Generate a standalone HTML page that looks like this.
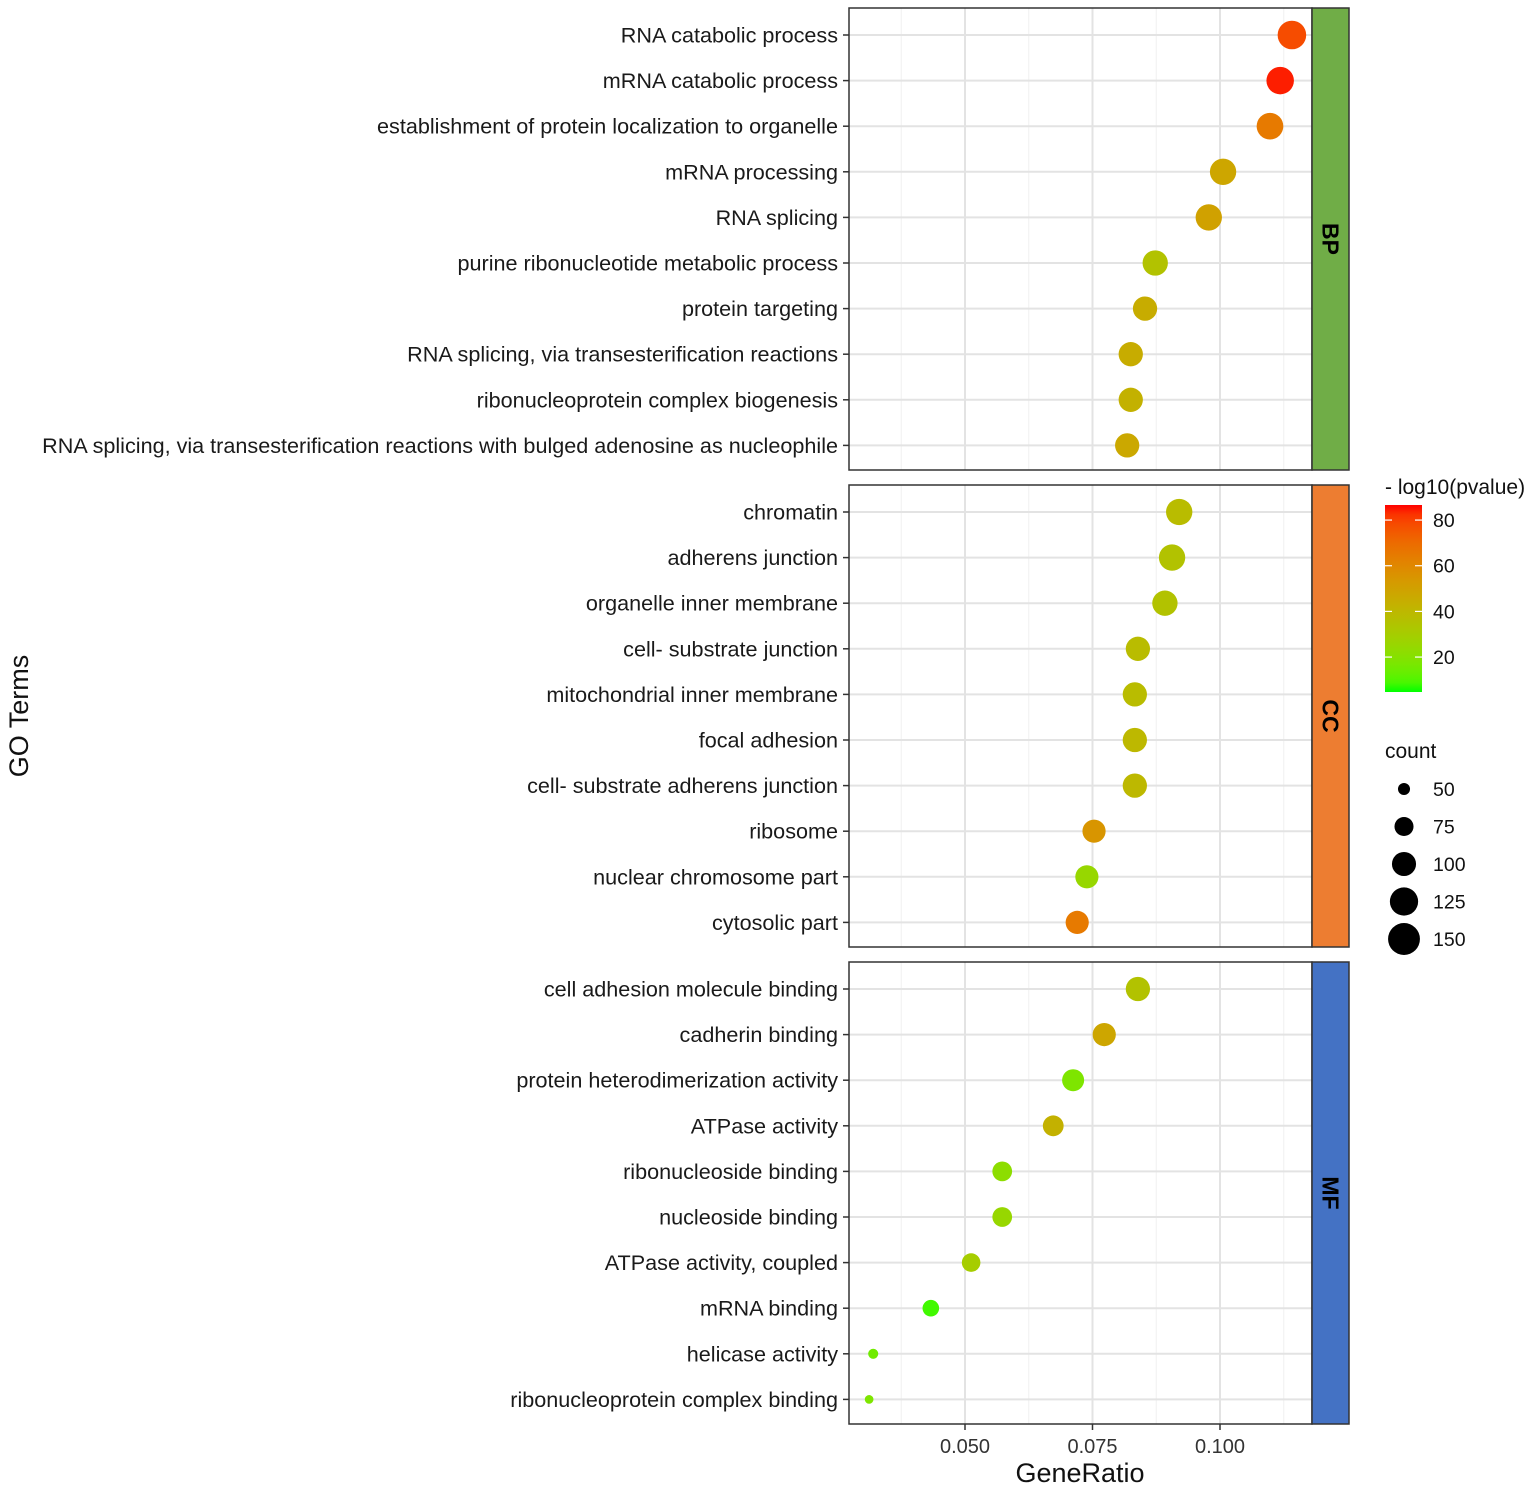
<!DOCTYPE html>
<html><head><meta charset="utf-8"><style>
html,body{margin:0;padding:0;background:#fff}
svg{display:block;font-family:"Liberation Sans",Arial,sans-serif}
</style></head><body>
<svg id="chart" width="1535" height="1491" viewBox="0 0 1535 1491"></svg>
<script>
const bpTerms=["RNA catabolic process","mRNA catabolic process","establishment of protein localization to organelle","mRNA processing","RNA splicing","purine ribonucleotide metabolic process","protein targeting","RNA splicing, via transesterification reactions","ribonucleoprotein complex biogenesis","RNA splicing, via transesterification reactions with bulged adenosine as nucleophile"];
const bpRatio=[0.1141,0.1118,0.1098,0.1006,0.0978,0.0873,0.0853,0.0825,0.0825,0.0818];
const bpCount=[127,120,115,113,113,107,101,101,101,101];
const bpLogP=[78,85,65,48,50,35,45,45,43,47];
const ccTerms=["chromatin","adherens junction","organelle inner membrane","cell- substrate junction","mitochondrial inner membrane","focal adhesion","cell- substrate adherens junction","ribosome","nuclear chromosome part","cytosolic part"];
const ccRatio=[0.0920,0.0906,0.0892,0.0839,0.0833,0.0833,0.0833,0.0753,0.0739,0.0720];
const ccCount=[113,113,107,101,101,101,101,95,95,95];
const ccLogP=[38,35,35,38,38,40,40,55,25,65];
const mfTerms=["cell adhesion molecule binding","cadherin binding","protein heterodimerization activity","ATPase activity","ribonucleoside binding","nucleoside binding","ATPase activity, coupled","mRNA binding","helicase activity","ribonucleoprotein complex binding"];
const mfRatio=[0.0839,0.0773,0.0712,0.0673,0.0573,0.0573,0.0512,0.0433,0.0320,0.0312];
const mfCount=[101,95,89,83,78,78,73,65,45,42];
const mfLogP=[35,48,18,43,22,25,30,8,15,18];
const xTicks=[0.050,0.075,0.100];
const xTickLabels=["0.050","0.075","0.100"];
const colorTicks=[20,40,60,80];
const sizeBreaks=[50,75,100,125,150];

const NS="http://www.w3.org/2000/svg";
const svg=document.getElementById('chart');
function mk(tag,attrs,parent,text){const e=document.createElementNS(NS,tag);for(const k in attrs)e.setAttribute(k,attrs[k]);if(text!==undefined)e.textContent=text;(parent||svg).appendChild(e);return e;}
const X0=849,X1=1312;
function xs(v){return 965+(v-0.05)*5100;}
function rs(c){return 1.1*Math.sqrt(Math.max(4,-60+1.8*c));}
const cMin=4.7,cMax=86.6;
function s2l(c){c/=255;return c<=0.04045?c/12.92:Math.pow((c+0.055)/1.055,2.4);}
function l2s(c){c=c<=0.0031308?12.92*c:1.055*Math.pow(c,1/2.4)-0.055;return Math.round(Math.max(0,Math.min(1,c))*255);}
function toLab(r,g,b){r=s2l(r);g=s2l(g);b=s2l(b);let x=(0.4124*r+0.3576*g+0.1805*b)/0.95047,y=0.2126*r+0.7152*g+0.0722*b,z=(0.0193*r+0.1192*g+0.9505*b)/1.08883;const f=t=>t>0.008856?Math.cbrt(t):7.787*t+16/116;return[116*f(y)-16,500*(f(x)-f(y)),200*(f(y)-f(z))];}
function fromLab(L,a,b){let fy=(L+16)/116,fx=fy+a/500,fz=fy-b/200;const fi=t=>t*t*t>0.008856?t*t*t:(t-16/116)/7.787;let x=fi(fx)*0.95047,y=fi(fy),z=fi(fz)*1.08883;let r=3.2406*x-1.5372*y-0.4986*z,g=-0.9689*x+1.8758*y+0.0415*z,bb=0.0557*x-0.2040*y+1.0570*z;return `rgb(${l2s(r)},${l2s(g)},${l2s(bb)})`;}
const LG=toLab(0,255,0),LR=toLab(255,0,0);
function col(v){const t=Math.max(0,Math.min(1,(v-cMin)/(cMax-cMin)));return fromLab(LG[0]+(LR[0]-LG[0])*t,LG[1]+(LR[1]-LG[1])*t,LG[2]+(LR[2]-LG[2])*t);}

const panels=[
 {name:"BP",top:8,terms:bpTerms,ratio:bpRatio,count:bpCount,logp:bpLogP,fill:"#70AD47"},
 {name:"CC",top:485,terms:ccTerms,ratio:ccRatio,count:ccCount,logp:ccLogP,fill:"#ED7D31"},
 {name:"MF",top:962,terms:mfTerms,ratio:mfRatio,count:mfCount,logp:mfLogP,fill:"#4472C4"}];
const PH=462;
panels.forEach(p=>{
 const g=mk('g',{});
 
 
 mk('rect',{x:X0,y:p.top,width:X1-X0,height:PH,fill:'#fff'},g);
 [0.0375,0.0625,0.0875,0.1125].forEach(v=>mk('line',{x1:xs(v),x2:xs(v),y1:p.top,y2:p.top+PH,stroke:'#f0f0f0','stroke-width':1},g));
 xTicks.forEach(v=>mk('line',{x1:xs(v),x2:xs(v),y1:p.top,y2:p.top+PH,stroke:'#e3e3e3','stroke-width':2},g));
 const step=45.6, y0=p.top+27;
 p.terms.forEach((t,i)=>{
  const y=y0+i*step;
  mk('line',{x1:X0,x2:X1,y1:y,y2:y,stroke:'#e3e3e3','stroke-width':2},g);
  mk('line',{x1:X0-6,x2:X0,y1:y,y2:y,stroke:'#333','stroke-width':1.5},g);
  const lb=mk('text',{x:838,y:y+7.5,'text-anchor':'end','font-size':21.6,fill:'#1a1a1a'},g,t);
  
  
 });
 p.terms.forEach((t,i)=>{
  const y=y0+i*step;
  const c=mk('circle',{cx:xs(p.ratio[i]),cy:y,r:rs(p.count[i]),fill:col(p.logp[i])},g);
  
  
 });
 mk('rect',{x:X0,y:p.top,width:X1-X0,height:PH,fill:'none',stroke:'#333','stroke-width':1.5},g);
 const s=mk('rect',{x:X1,y:p.top,width:37,height:PH,fill:p.fill,stroke:'#333','stroke-width':1.5},g);
 
 
 const cy=p.top+PH/2;
 mk('text',{x:X1+18.5,y:cy,'font-size':23,'font-weight':'bold','text-anchor':'middle','dominant-baseline':'central',transform:`rotate(90 ${X1+18.5} ${cy})`},g,p.name);
});
const bottom=962+PH;
xTicks.forEach((v,i)=>{
 mk('line',{x1:xs(v),x2:xs(v),y1:bottom,y2:bottom+6,stroke:'#333','stroke-width':1.5});
 const t=mk('text',{x:xs(v),y:bottom+29,'text-anchor':'middle','font-size':20,fill:'#333'},undefined,xTickLabels[i]);
 
 
});
const xt=mk('text',{x:1080,y:1482,'text-anchor':'middle','font-size':27,fill:'#111'},undefined,'GeneRatio');


const yt=mk('text',{x:28,y:716,'text-anchor':'middle','font-size':27,fill:'#111',transform:'rotate(-90 28 716)'},undefined,'GO Terms');


const lg=mk('g',{});


mk('text',{x:1385,y:494,'font-size':21,fill:'#111'},lg,'- log10(pvalue)');
const cbTop=505,cbBot=692,cbX=1385,cbW=37;
const defs=mk('defs',{},svg);
const gr=mk('linearGradient',{id:'cg',x1:0,y1:1,x2:0,y2:0},defs);
for(let k=0;k<=20;k++){mk('stop',{offset:k/20,'stop-color':col(cMin+(cMax-cMin)*k/20)},gr);}
mk('rect',{x:cbX,y:cbTop,width:cbW,height:cbBot-cbTop,fill:'url(#cg)'},lg);
function cy(v){return cbBot-(v-cMin)/(cMax-cMin)*(cbBot-cbTop);}
colorTicks.forEach(v=>{
 const y=cy(v);
 mk('line',{x1:cbX,x2:cbX+7,y1:y,y2:y,stroke:'#fff','stroke-width':1.2},lg);
 mk('line',{x1:cbX+cbW-7,x2:cbX+cbW,y1:y,y2:y,stroke:'#fff','stroke-width':1.2},lg);
 mk('text',{x:1433,y:y+7,'font-size':19.5,fill:'#111'},lg,String(v));
});
const sg=mk('g',{});


mk('text',{x:1385,y:758,'font-size':21,fill:'#111'},sg,'count');
sizeBreaks.forEach((c,i)=>{
 const y=789+i*37.5;
 mk('circle',{cx:1404,cy:y,r:rs(c),fill:'#000'},sg);
 mk('text',{x:1433,y:y+7,'font-size':19.5,fill:'#111'},sg,String(c));
});
</script>
</body></html>
